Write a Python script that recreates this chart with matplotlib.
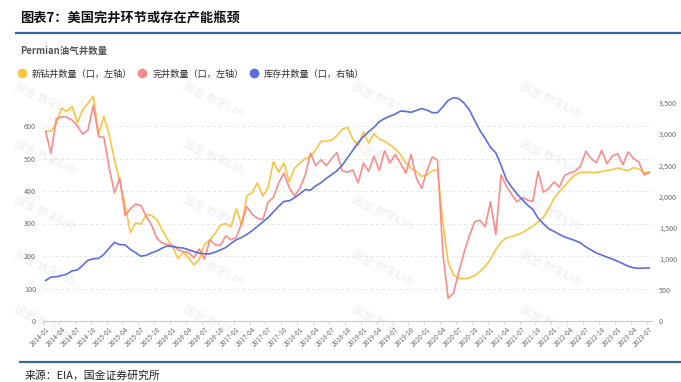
import numpy as np
import pandas as pd
import matplotlib
matplotlib.use("Agg")
import matplotlib.pyplot as plt
from matplotlib.lines import Line2D

plt.rcParams["font.family"] = ["Noto Sans CJK SC", "DejaVu Sans"]

# 月份类别 2014-01 ~ 2023-07
months = list(pd.date_range("2014-01", "2023-07", freq="MS").strftime("%Y-%m"))

# 新钻井数量（口，左轴）
drilled = [584, 584, 605, 655, 645, 660, 610, 650, 670, 692,
           575, 630, 572, 495, 430, 358, 272, 302, 298, 328,
           325, 312, 280, 252, 228, 192, 212, 194, 173, 190,
           235, 250, 270, 295, 300, 290, 345, 296, 385, 396,
           425, 385, 410, 490, 458, 486, 428, 470, 486, 500,
           505, 527, 553, 553, 557, 570, 590, 596, 560, 540,
           582, 548, 576, 560, 553, 542, 530, 512, 486, 470,
           460, 445, 450, 462, 466, 305, 180, 142, 132, 130,
           133, 140, 152, 168, 190, 220, 243, 255, 260, 265,
           272, 282, 292, 305, 320, 345, 378, 398, 415, 435,
           450, 457, 458, 457, 457, 460, 463, 466, 471, 466,
           463, 472, 468, 455, 460]

# 完井数量（口，左轴）
completed = [583, 516, 622, 628, 627, 618, 600, 575, 588, 664,
             568, 565, 470, 395, 440, 325, 345, 360, 355, 322,
             295, 255, 240, 235, 232, 220, 213, 212, 194, 222,
             190, 250, 235, 232, 262, 250, 258, 300, 352, 328,
             316, 312, 365, 380, 425, 455, 410, 385, 408, 448,
             516, 478, 496, 478, 500, 518, 462, 458, 465, 425,
             486, 460, 507, 463, 524, 486, 512, 486, 455, 512,
             440, 408, 462, 505, 495, 210, 70, 85, 150, 210,
             262, 305, 310, 290, 367, 266, 450, 415, 390, 367,
             380, 372, 368, 460, 396, 408, 428, 412, 448, 456,
             461, 476, 522, 500, 487, 525, 484, 508, 515, 481,
             520, 500, 490, 450, 456]

# 库存井数量（口，右轴）
inventory = [650, 705, 710, 730, 752, 805, 820, 895, 975, 1000,
             1005, 1070, 1170, 1262, 1225, 1222, 1150, 1095, 1040, 1055,
             1095, 1125, 1170, 1205, 1195, 1180, 1170, 1145, 1115, 1090,
             1078, 1078, 1105, 1140, 1180, 1245, 1305, 1340, 1390, 1450,
             1520, 1590, 1660, 1750, 1840, 1920, 1930, 1980, 2040, 2110,
             2100, 2170, 2220, 2290, 2350, 2410, 2500, 2620, 2740, 2860,
             2960, 3040, 3110, 3200, 3250, 3290, 3320, 3370, 3365, 3350,
             3380, 3410, 3385, 3345, 3345, 3440, 3540, 3585, 3570, 3500,
             3390, 3220, 3060, 2930, 2790, 2700, 2500, 2270, 2150, 2040,
             1950, 1860, 1790, 1650, 1560, 1480, 1440, 1390, 1350, 1320,
             1290, 1255, 1190, 1140, 1090, 1060, 1025, 995, 960, 920,
             880, 855, 845, 850, 852]

left_ticks = [0, 100, 200, 300, 400, 500, 600]
right_ticks = [0, 500, 1000, 1500, 2000, 2500, 3000, 3500]

c_yellow = "#F9C543"
c_red = "#FA8C8C"
c_blue = "#5B6EE0"
c_rule = "#2E6B9C"
c_tick = "#6b6b6b"

fig = plt.figure(figsize=(6.81, 3.82), dpi=100)
W, H = 681, 382

# 水印
for yc in [100, 157, 213, 268, 323]:
    for xc in [45, 214, 383, 551]:
        fig.text(xc / W, 1 - yc / H, "国金 数字Lab", fontsize=8, color="#eeeeee",
                 rotation=-25, ha="center", va="center", zorder=-5)

ax = fig.add_axes([43 / W, 1 - 321 / H, (652 - 43) / W, (321 - 93.5) / H], zorder=2)
ax.patch.set_alpha(0)
ax2 = ax.twinx()
ax2.patch.set_alpha(0)

x = np.arange(len(months))
ax.plot(x, drilled, color=c_yellow, lw=1.2, zorder=3)
ax.plot(x, completed, color=c_red, lw=1.2, zorder=3)
ax2.plot(x, inventory, color=c_blue, lw=1.2, zorder=3)

ax.set_xlim(-0.5, len(months) - 0.5)
ax.set_ylim(0, 700)
ax2.set_ylim(0, 3652)

ax.set_yticks(left_ticks)
ax.set_yticklabels([str(v) for v in left_ticks])
ax2.set_yticks(right_ticks)
ax2.set_yticklabels([f"{v:,}" for v in right_ticks])

for a in (ax, ax2):
    for s in ["top", "left", "right"]:
        a.spines[s].set_visible(False)
    a.tick_params(axis="y", length=0, labelsize=5.2, labelcolor=c_tick, pad=5)
ax.spines["bottom"].set_color("#cccccc")
ax.spines["bottom"].set_linewidth(0.8)
ax2.spines["bottom"].set_visible(False)

for v in left_ticks[1:]:
    ax.axhline(v, color="#e4e4e4", lw=0.6, ls=(0, (4, 3)), zorder=1)

tick_pos = x[::3]
ax.set_xticks(tick_pos)
ax.set_xticklabels([months[i] for i in tick_pos], rotation=45, ha="right",
                   va="top", rotation_mode="anchor", fontsize=4.8, color=c_tick)
ax.tick_params(axis="x", length=0, pad=3)
ax.set_xticks(tick_pos - 0.5, minor=True)
ax.tick_params(axis="x", which="minor", length=2.5, color="#cccccc", width=0.6)

# 标题和说明
fig.text(20 / W, 1 - 18 / H, "图表7：美国完井环节或存在产能瓶颈", fontsize=9.5,
         fontweight="bold", color="#111111", ha="left", va="center")
fig.add_artist(Line2D([16 / W, 1], [1 - 33 / H, 1 - 33 / H], color=c_rule, lw=1.6))
fig.text(20 / W, 1 - 51 / H, "Permian油气井数量", fontsize=6.8, fontweight="bold",
         color="#555555", ha="left", va="center")

handles = [Line2D([], [], marker="o", ls="none", color=c, markersize=6)
           for c in (c_yellow, c_red, c_blue)]
labels = ["新钻井数量（口，左轴）", "完井数量（口，左轴）", "库存井数量（口，右轴）"]
fig.legend(handles, labels, loc="center left", bbox_to_anchor=(8 / W, 1 - 74 / H),
           ncol=3, frameon=False, fontsize=6.6, handletextpad=0.5, columnspacing=0.5,
           handlelength=1.2, labelcolor="#333333")

fig.add_artist(Line2D([20 / W, 1], [1 - 362 / H, 1 - 362 / H], color=c_rule, lw=1.6))
fig.text(25 / W, 1 - 376 / H, "来源：EIA，国金证券研究所", fontsize=7.8,
         color="#222222", ha="left", va="center")

fig.savefig("out.png", dpi=100)
